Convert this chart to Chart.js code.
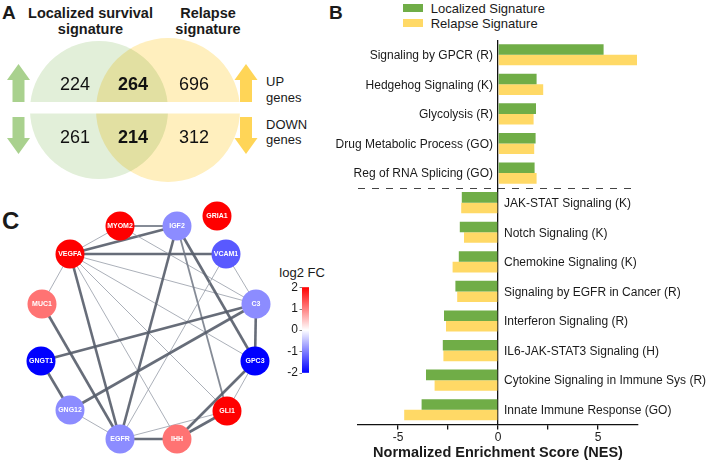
<!DOCTYPE html>
<html>
<head>
<meta charset="utf-8">
<script src="https://cdn.jsdelivr.net/npm/chart.js@4.4.1/dist/chart.umd.min.js"></script>
<style>
  html, body { margin: 0; padding: 0; background: #fff; }
  body { width: 708px; height: 460px; position: relative; overflow: hidden;
         font-family: Arial, "Liberation Sans", sans-serif; color: #1a1a1a; }
  .t { position: absolute; white-space: nowrap; line-height: 1; }
  .b { font-weight: bold; }
  .c { text-align: center; width: 200px; }
  canvas { position: absolute; }
  .sw { position: absolute; width: 20px; height: 8px; }
</style>
</head>
<body>
<!-- panel letters and titles -->
<div class="t b" style="left:2px;top:2.7px;font-size:19px">A</div>
<div class="t b" style="left:329px;top:2.7px;font-size:19px">B</div>
<div class="t b" style="left:2px;top:209px;font-size:24px">C</div>

<div class="t b c" style="left:-9.5px;top:6px;font-size:14.5px">Localized survival</div>
<div class="t b c" style="left:-9.5px;top:22px;font-size:14.5px">signature</div>
<div class="t b c" style="left:108px;top:6px;font-size:14.5px">Relapse</div>
<div class="t b c" style="left:108px;top:22px;font-size:14.5px">signature</div>

<div class="t" style="left:266px;top:74.7px;font-size:13px">UP</div>
<div class="t" style="left:266px;top:90.7px;font-size:13px">genes</div>
<div class="t" style="left:266px;top:118px;font-size:13px">DOWN</div>
<div class="t" style="left:266px;top:133.3px;font-size:13px">genes</div>

<div class="sw" style="left:403px;top:4px;background:#70AD47"></div>
<div class="sw" style="left:403px;top:19px;background:#FFD966"></div>
<div class="t" id="leg1" style="left:430.7px;top:1.7px;font-size:13px"></div>
<div class="t" id="leg2" style="left:430.7px;top:16.7px;font-size:13px"></div>

<div class="t" style="left:279.3px;top:265.7px;font-size:13px">log2 FC</div>

<canvas id="venn" width="355" height="190" style="left:0;top:0"></canvas>
<canvas id="net" width="355" height="270" style="left:0;top:190px"></canvas>
<canvas id="nes" width="388" height="460" style="left:320px;top:0"></canvas>

<script>
Chart.defaults.font.family = 'Arial, "Liberation Sans", sans-serif';
Chart.defaults.color = "#1a1a1a";

// ---- DATA ----
// A: venn counts (only localized, shared, only relapse)
const upCounts = [224, 264, 696];
const downCounts = [261, 214, 312];

// B: NES per pathway
const seriesNames = ["Localized Signature", "Relapse Signature"];
const pathways = [
  "Signaling by GPCR (R)", "Hedgehog Signaling (K)", "Glycolysis (R)",
  "Drug Metabolic Process (GO)", "Reg of RNA Splicing (GO)",
  "JAK-STAT Signaling (K)", "Notch Signaling (K)", "Chemokine Signaling (K)",
  "Signaling by EGFR in Cancer (R)", "Interferon Signaling (R)",
  "IL6-JAK-STAT3 Signaling (H)", "Cytokine Signaling in Immune Sys (R)",
  "Innate Immune Response (GO)"
];
const localizedNES = [5.28, 1.93, 1.90, 1.88, 1.83, -1.81, -1.91, -1.96, -2.13, -2.70, -2.76, -3.60, -3.82];
const relapseNES = [6.95, 2.26, 1.78, 1.81, 1.93, -1.84, -1.70, -2.27, -2.04, -2.60, -2.73, -3.17, -4.69];
const nesTicks = [-5, -2.5, 0, 2.5, 5];
const upCount = 5; // pathways above the dashed line

// C: gene network
const genes = ["MYOM2", "IGF2", "GRIA1", "VEGFA", "VCAM1", "MUC1", "C3", "GNGT1", "GPC3", "GNG12", "GLI1", "EGFR", "IHH"];
const log2FC = [2, -0.9, 2, 2, -1.3, 1.1, -0.9, -2, -2, -0.9, 2, -0.9, 1.1];
const nodeX = [120, 177, 217, 70, 226, 42, 256, 41, 255, 70, 227, 120, 177];
const nodeY = [226, 226, 216, 254, 254, 304, 304, 361, 361, 410, 411, 439, 439];
const edgeFrom = ["VEGFA","VEGFA","MYOM2","VEGFA","VEGFA","VEGFA","VEGFA","VEGFA","VEGFA","VEGFA","MYOM2","IGF2","IGF2","IGF2","VCAM1","VCAM1","C3","C3","C3","MUC1","GNGT1","GNG12","EGFR","EGFR","IHH","IHH","GLI1"];
const edgeTo   = ["MYOM2","IGF2","IGF2","VCAM1","MUC1","C3","GPC3","GLI1","IHH","EGFR","C3","EGFR","GPC3","GLI1","C3","EGFR","GNGT1","GNG12","GPC3","EGFR","GNG12","EGFR","IHH","GLI1","GPC3","GLI1","GPC3"];
const edgeWeight = [1, 3, 2, 3, 1, 1, 1, 1, 1, 3, 1, 3, 3, 2, 1, 1, 3, 3, 3, 3, 3, 1, 3, 1, 3, 3, 1];
const fcTicks = [2, 1, 0, -1, -2];

document.getElementById("leg1").textContent = seriesNames[0];
document.getElementById("leg2").textContent = seriesNames[1];

// ---- PANEL A: venn ----
const vennLayout = {
  colX: [75, 133, 194], rowBase: [90, 143.3],
  bandTop: 102, bandBottom: 113.5,
  arrowX: [18.5, 246], arrowColor: ["#A9D18E", "#FFD557"]
};

function drawArrow(ctx, cx, yTip, yBase, yEnd, half, shaft) {
  ctx.beginPath();
  ctx.moveTo(cx, yTip);
  ctx.lineTo(cx + half, yBase);
  ctx.lineTo(cx + shaft, yBase);
  ctx.lineTo(cx + shaft, yEnd);
  ctx.lineTo(cx - shaft, yEnd);
  ctx.lineTo(cx - shaft, yBase);
  ctx.lineTo(cx - half, yBase);
  ctx.closePath();
  ctx.fill();
}

const vennPlugin = {
  id: "venn",
  beforeDatasetsDraw(chart) {
    chart.ctx.save();
    chart.ctx.globalCompositeOperation = "multiply";
  },
  afterDatasetsDraw(chart) {
    const { ctx, scales: { x, y } } = chart;
    ctx.restore();
    ctx.save();
    ctx.fillStyle = "#fff";
    ctx.fillRect(x.getPixelForValue(20), y.getPixelForValue(vennLayout.bandTop),
      x.getPixelForValue(250) - x.getPixelForValue(20),
      y.getPixelForValue(vennLayout.bandBottom) - y.getPixelForValue(vennLayout.bandTop));

    vennLayout.arrowX.forEach((ax, i) => {
      ctx.fillStyle = vennLayout.arrowColor[i];
      const px = x.getPixelForValue(ax);
      drawArrow(ctx, px, y.getPixelForValue(64), y.getPixelForValue(80), y.getPixelForValue(102), 11.5, 6);
      drawArrow(ctx, px, y.getPixelForValue(154), y.getPixelForValue(138), y.getPixelForValue(117), 11.5, 6);
    });

    ctx.fillStyle = "#111";
    ctx.textAlign = "center";
    ctx.textBaseline = "alphabetic";
    [upCounts, downCounts].forEach((row, r) => {
      row.forEach((v, i) => {
        ctx.font = (i === 1 ? "bold " : "") + '18px Arial, "Liberation Sans", sans-serif';
        ctx.fillText(String(v), x.getPixelForValue(vennLayout.colX[i]), y.getPixelForValue(vennLayout.rowBase[r]));
      });
    });
    ctx.restore();
  }
};

new Chart(document.getElementById("venn"), {
  type: "bubble",
  data: {
    datasets: [{
      data: [{ x: 99, y: 110, r: 69 }, { x: 168, y: 110, r: 72 }],
      backgroundColor: ["#E2EFD9", "#FFEFBE"],
      borderWidth: 0
    }]
  },
  options: {
    responsive: false, animation: false,
    layout: { padding: 0, autoPadding: false },
    scales: {
      x: { type: "linear", min: 0, max: 355, display: false },
      y: { type: "linear", min: 0, max: 190, reverse: true, display: false }
    },
    plugins: { legend: { display: false }, tooltip: { enabled: false } }
  },
  plugins: [vennPlugin]
});

// ---- PANEL B: NES bars ----
const sideLabels = {
  id: "sideLabels",
  afterDatasetsDraw(chart) {
    const { ctx, chartArea, scales: { x, y } } = chart;
    const x0 = x.getPixelForValue(0);
    ctx.save();
    ctx.font = '12px Arial, "Liberation Sans", sans-serif';
    ctx.fillStyle = "#1a1a1a";
    ctx.textBaseline = "middle";
    pathways.forEach((name, i) => {
      const py = y.getPixelForValue(i) + 1;
      if (i < upCount) { ctx.textAlign = "right"; ctx.fillText(name, x0 - 5, py); }
      else { ctx.textAlign = "left"; ctx.fillText(name, x0 + 6, py); }
    });
    const sy = Math.round((y.getPixelForValue(upCount - 1) + y.getPixelForValue(upCount)) / 2) + 0.5;
    ctx.strokeStyle = "#444";
    ctx.lineWidth = 1;
    ctx.setLineDash([7, 7]);
    ctx.beginPath();
    ctx.moveTo(chartArea.left, sy);
    ctx.lineTo(chartArea.right, sy);
    ctx.stroke();
    ctx.restore();
  }
};

new Chart(document.getElementById("nes"), {
  type: "bar",
  data: {
    labels: pathways,
    datasets: [
      { label: seriesNames[0], data: localizedNES, backgroundColor: "#70AD47" },
      { label: seriesNames[1], data: relapseNES, backgroundColor: "#FFD966" }
    ]
  },
  options: {
    indexAxis: "y",
    responsive: false, animation: false,
    layout: { padding: { left: 38, right: 70, top: 40, bottom: 0 } },
    datasets: { bar: { categoryPercentage: 0.715, barPercentage: 1 } },
    scales: {
      y: { display: false },
      x: {
        min: -7, max: 7,
        afterBuildTicks: scale => { scale.ticks = nesTicks.map(v => ({ value: v })); },
        ticks: {
          autoSkip: false, maxRotation: 0, padding: 2,
          font: { size: 12, lineHeight: 1 }, color: "#1a1a1a",
          callback: v => (v % 5 === 0 ? String(v) : "")
        },
        grid: {
          color: c => (c.tick && c.tick.value === 0 ? "#111" : "rgba(0,0,0,0)"),
          lineWidth: 1.3, tickColor: "#111", tickLength: 5, drawTicks: true
        },
        border: { display: true, color: "#111", width: 1.3 },
        title: {
          display: true, text: "Normalized Enrichment Score (NES)",
          font: { size: 14.5, weight: "bold", lineHeight: 1 }, color: "#1a1a1a",
          padding: { top: 0, bottom: 0 }
        }
      }
    },
    plugins: { legend: { display: false }, tooltip: { enabled: false } }
  },
  plugins: [sideLabels]
});

// ---- PANEL C: network ----
function fcColor(v) {
  const t = Math.max(-1, Math.min(1, v / 2));
  if (t >= 0) {
    const k = Math.round(255 * (1 - t));
    return `rgb(255,${k},${k})`;
  }
  const k = Math.round(255 * (1 + t));
  return `rgb(${k},${k},255)`;
}

const edgeStyle = {
  1: { w: 1, c: "rgba(150,156,168,0.8)" },
  2: { w: 1.8, c: "rgba(112,119,132,0.85)" },
  3: { w: 2.6, c: "rgba(86,93,106,0.9)" }
};

const netPlugin = {
  id: "net",
  beforeDatasetsDraw(chart) {
    const { ctx, scales: { x, y } } = chart;
    ctx.save();
    edgeFrom.forEach((a, i) => {
      const ia = genes.indexOf(a), ib = genes.indexOf(edgeTo[i]);
      const st = edgeStyle[edgeWeight[i]];
      ctx.strokeStyle = st.c;
      ctx.lineWidth = st.w;
      ctx.beginPath();
      ctx.moveTo(x.getPixelForValue(nodeX[ia]), y.getPixelForValue(nodeY[ia]));
      ctx.lineTo(x.getPixelForValue(nodeX[ib]), y.getPixelForValue(nodeY[ib]));
      ctx.stroke();
    });
    ctx.restore();
  },
  afterDatasetsDraw(chart) {
    const { ctx, scales: { x, y } } = chart;
    ctx.save();
    ctx.fillStyle = "#fff";
    ctx.font = 'bold 7px Arial, "Liberation Sans", sans-serif';
    ctx.textAlign = "center";
    ctx.textBaseline = "middle";
    genes.forEach((g, i) => {
      ctx.fillText(g, x.getPixelForValue(nodeX[i]), y.getPixelForValue(nodeY[i]) + 0.5);
    });

    // colour bar
    const fcY = v => y.getPixelForValue(330 - v * 21.4);
    const bx = x.getPixelForValue(302), bw = 7;
    const grad = ctx.createLinearGradient(0, fcY(2), 0, fcY(-2));
    grad.addColorStop(0, fcColor(2));
    grad.addColorStop(0.5, fcColor(0));
    grad.addColorStop(1, fcColor(-2));
    ctx.fillStyle = grad;
    ctx.fillRect(bx, fcY(2), bw, fcY(-2) - fcY(2));
    ctx.fillStyle = "#1a1a1a";
    ctx.strokeStyle = "#888";
    ctx.lineWidth = 1;
    ctx.font = '12px Arial, "Liberation Sans", sans-serif';
    ctx.textAlign = "right";
    fcTicks.forEach(v => {
      ctx.fillText(String(v), bx - 4, fcY(v));
      ctx.beginPath();
      ctx.moveTo(bx - 2.5, Math.round(fcY(v)) + 0.5);
      ctx.lineTo(bx, Math.round(fcY(v)) + 0.5);
      ctx.stroke();
    });
    ctx.restore();
  }
};

new Chart(document.getElementById("net"), {
  type: "scatter",
  data: {
    datasets: [{
      data: genes.map((g, i) => ({ x: nodeX[i], y: nodeY[i] })),
      pointRadius: 14.5,
      pointBorderWidth: 0,
      pointBackgroundColor: log2FC.map(fcColor)
    }]
  },
  options: {
    responsive: false, animation: false,
    layout: { padding: 0, autoPadding: false },
    scales: {
      x: { type: "linear", min: 0, max: 355, display: false },
      y: { type: "linear", min: 190, max: 460, reverse: true, display: false }
    },
    plugins: { legend: { display: false }, tooltip: { enabled: false } }
  },
  plugins: [netPlugin]
});
</script>
</body>
</html>
